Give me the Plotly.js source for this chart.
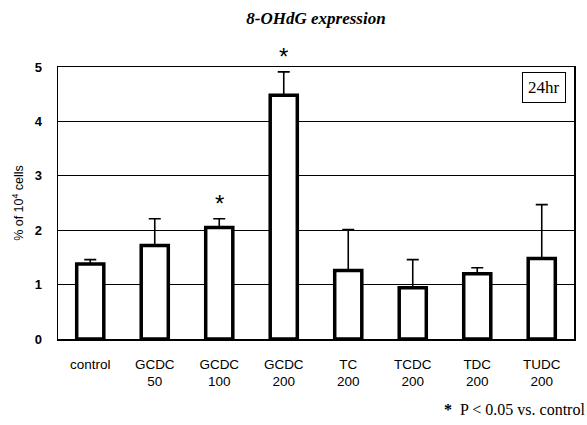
<!DOCTYPE html>
<html>
<head>
<meta charset="utf-8">
<script src="https://cdn.plot.ly/plotly-3.0.1.min.js"></script>
<style>html,body{margin:0;padding:0;background:#fff;}#chart{width:587px;height:425px;}</style>
</head>
<body>
<div id="chart"></div>
<script>
const categories = ["control", "GCDC<br>50", "GCDC<br>100", "GCDC<br>200", "TC<br>200", "TCDC<br>200", "TDC<br>200", "TUDC<br>200"];
const values = [1.38, 1.72, 2.05, 4.48, 1.26, 0.94, 1.20, 1.48];
const errors = [0.08, 0.49, 0.16, 0.43, 0.75, 0.52, 0.11, 0.99];
const significant = [false, false, true, true, false, false, false, false];
const yTicks = [0, 1, 2, 3, 4, 5];

const xIdx = categories.map((_, i) => i);

const trace = {
  type: 'bar',
  x: xIdx,
  y: values,
  width: 0.42,
  marker: {color: '#ffffff', line: {color: '#000000', width: 3.5}},
  error_y: {type: 'data', array: errors, arrayminus: errors.map(() => 0), symmetric: false, color: '#000', thickness: 1.6, width: 6},
  hoverinfo: 'none',
  showlegend: false
};

const annotations = [];
xIdx.forEach(i => {
  if (significant[i]) {
    annotations.push({x: i, y: values[i] + errors[i], yref: 'y', xref: 'x', text: '*', showarrow: false, yanchor: 'bottom', yshift: 0,
      font: {family: 'Liberation Sans, Arial', size: 24, color: '#000'}});
  }
});
annotations.push({xref: 'paper', yref: 'paper', x: 0.985, y: 0.982, xanchor: 'right', yanchor: 'top', text: '24hr', showarrow: false,
  font: {family: 'Liberation Serif, Times New Roman', size: 17, color: '#000'}, bordercolor: '#000', borderwidth: 1, borderpad: 5, bgcolor: '#fff'});
annotations.push({xref: 'paper', yref: 'paper', x: 1.025, y: -0.26, xanchor: 'right', yanchor: 'middle', text: '<b>*</b>  P < 0.05 vs. control', showarrow: false,
  font: {family: 'Liberation Serif, Times New Roman', size: 16, color: '#000'}});

const layout = {
  width: 587, height: 425,
  margin: {l: 58, r: 13, t: 67, b: 86},
  paper_bgcolor: '#fff', plot_bgcolor: '#fff',
  title: {text: '<b><i>8-OHdG expression</i></b>', x: 0.5, xref: 'paper', y: 0.957, yanchor: 'middle',
    font: {family: 'Liberation Serif, Times New Roman', size: 17, color: '#000'}},
  xaxis: {
    range: [-0.5, 7.5], tickmode: 'array', tickvals: xIdx, ticktext: categories,
    showline: true, linecolor: '#000', linewidth: 1.5, mirror: true, showgrid: false, zeroline: false,
    ticks: '', tickfont: {family: 'Liberation Sans, Arial', size: 13.5, color: '#000'}, ticklabelstandoff: 12
  },
  yaxis: {
    range: [0, 5], tickmode: 'array', tickvals: yTicks, ticktext: yTicks.map(v => '<b>' + v + '</b>'),
    showline: true, linecolor: '#000', linewidth: 1.5, mirror: true,
    showgrid: true, gridcolor: '#000', gridwidth: 1.3, zeroline: false, ticks: '',
    tickfont: {family: 'Liberation Sans, Arial', size: 13, color: '#000'}, ticklabelstandoff: 12,
    title: {text: '% of 10<sup>4</sup> cells', font: {family: 'Liberation Sans, Arial', size: 12.5, color: '#000'}, standoff: 8}
  },
  annotations: annotations
};

Plotly.newPlot('chart', [trace], layout, {displayModeBar: false, staticPlot: true});
</script>
</body>
</html>
